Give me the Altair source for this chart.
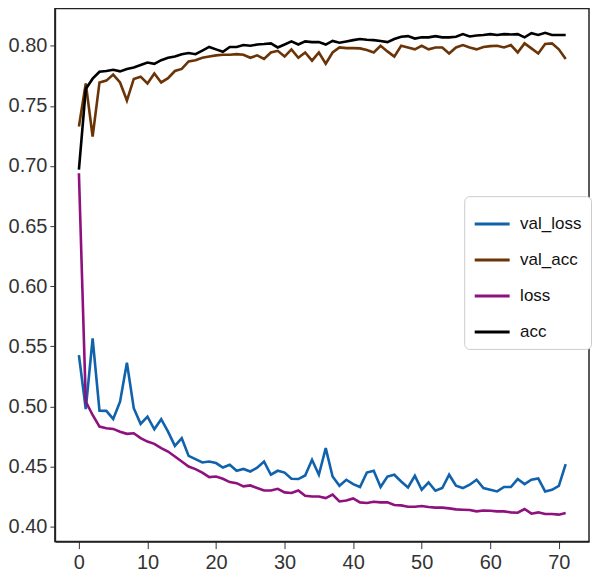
import altair as alt
import pandas as pd

epochs = list(range(72))

val_loss = [0.5427, 0.4977, 0.5566, 0.4965, 0.4963, 0.4896, 0.5040, 0.5364, 0.4985, 0.4855,
            0.4915, 0.4810, 0.4894, 0.4790, 0.4672, 0.4736, 0.4589, 0.4562, 0.4534, 0.4542,
            0.4529, 0.4492, 0.4515, 0.4465, 0.4480, 0.4459, 0.4490, 0.4542, 0.4432, 0.4465,
            0.4450, 0.4398, 0.4396, 0.4426, 0.4556, 0.4432, 0.4653, 0.4417, 0.4340, 0.4390,
            0.4354, 0.4330, 0.4450, 0.4465, 0.4330, 0.4417, 0.4432, 0.4376, 0.4326, 0.4423,
            0.4307, 0.4368, 0.4299, 0.4321, 0.4432, 0.4340, 0.4321, 0.4349, 0.4390, 0.4321,
            0.4307, 0.4293, 0.4330, 0.4330, 0.4396, 0.4354, 0.4390, 0.4401, 0.4293, 0.4307,
            0.4340, 0.4520]

val_acc = [0.7328, 0.7687, 0.7245, 0.7695, 0.7710, 0.7760, 0.7695, 0.7544, 0.7724, 0.7743,
           0.7687, 0.7770, 0.7695, 0.7730, 0.7790, 0.7807, 0.7870, 0.7880, 0.7900, 0.7910,
           0.7920, 0.7925, 0.7925, 0.7930, 0.7925, 0.7900, 0.7920, 0.7890, 0.7944, 0.7958,
           0.7910, 0.7970, 0.7900, 0.7944, 0.7876, 0.7944, 0.7850, 0.7944, 0.7986, 0.7980,
           0.7980, 0.7978, 0.7964, 0.7944, 0.8000, 0.7953, 0.7910, 0.8000, 0.7986, 0.7970,
           0.8000, 0.7970, 0.7986, 0.7986, 0.7936, 0.7986, 0.8006, 0.7986, 0.7970, 0.7990,
           0.7997, 0.8000, 0.7986, 0.8006, 0.7944, 0.8020, 0.7978, 0.7936, 0.8014, 0.8020,
           0.7970, 0.7890]

loss = [0.6940, 0.5040, 0.4929, 0.4832, 0.4818, 0.4813, 0.4790, 0.4772, 0.4777, 0.4736,
        0.4708, 0.4689, 0.4653, 0.4625, 0.4583, 0.4542, 0.4500, 0.4479, 0.4450, 0.4412,
        0.4417, 0.4398, 0.4371, 0.4362, 0.4335, 0.4343, 0.4321, 0.4301, 0.4301, 0.4315,
        0.4285, 0.4280, 0.4301, 0.4257, 0.4251, 0.4251, 0.4238, 0.4266, 0.4210, 0.4218,
        0.4235, 0.4202, 0.4197, 0.4207, 0.4202, 0.4202, 0.4180, 0.4177, 0.4166, 0.4166,
        0.4172, 0.4163, 0.4158, 0.4158, 0.4152, 0.4144, 0.4141, 0.4139, 0.4127, 0.4135,
        0.4133, 0.4127, 0.4127, 0.4119, 0.4116, 0.4147, 0.4108, 0.4119, 0.4105, 0.4105,
        0.4100, 0.4114]

acc = [0.6970, 0.7640, 0.7726, 0.7784, 0.7790, 0.7800, 0.7787, 0.7807, 0.7820, 0.7840,
       0.7860, 0.7850, 0.7880, 0.7900, 0.7910, 0.7930, 0.7940, 0.7930, 0.7960, 0.7990,
       0.7970, 0.7950, 0.7990, 0.7990, 0.8006, 0.8000, 0.8010, 0.8014, 0.8020, 0.7986,
       0.8010, 0.8036, 0.8010, 0.8036, 0.8030, 0.8030, 0.8010, 0.8040, 0.8025, 0.8036,
       0.8047, 0.8056, 0.8050, 0.8047, 0.8040, 0.8030, 0.8056, 0.8075, 0.8080, 0.8060,
       0.8070, 0.8070, 0.8080, 0.8070, 0.8070, 0.8075, 0.8097, 0.8077, 0.8085, 0.8090,
       0.8097, 0.8090, 0.8097, 0.8094, 0.8097, 0.8070, 0.8105, 0.8090, 0.8108, 0.8090,
       0.8090, 0.8090]

series_names = ["val_loss", "val_acc", "loss", "acc"]
series_colors = ["#0f62ab", "#6b3406", "#8e117e", "#000000"]
series_values = [val_loss, val_acc, loss, acc]

x_ticks = [0, 10, 20, 30, 40, 50, 60, 70]
y_ticks = [0.40, 0.45, 0.50, 0.55, 0.60, 0.65, 0.70, 0.75, 0.80]

rows = []
for name, vals in zip(series_names, series_values):
    for e, v in zip(epochs, vals):
        rows.append({"epoch": e, "value": v, "series": name})
df = pd.DataFrame(rows)

FONT = "Liberation Sans, Arial, sans-serif"

chart = alt.Chart(df).mark_line(strokeWidth=2.6).encode(
    x=alt.X("epoch:Q",
            scale=alt.Scale(domain=[-3.5, 74.4], nice=False, zero=False),
            axis=alt.Axis(values=x_ticks, title=None, grid=False, format="d",
                          labelFontSize=20, labelFont=FONT, labelColor="#333333",
                          tickSize=7, tickColor="#333333", domainColor="#222222",
                          domainWidth=1.5, labelPadding=4)),
    y=alt.Y("value:Q",
            scale=alt.Scale(domain=[0.3876, 0.831], nice=False, zero=False),
            axis=alt.Axis(values=y_ticks, title=None, grid=False, format=".2f",
                          labelFontSize=20, labelFont=FONT, labelColor="#333333",
                          tickSize=5, tickColor="#333333", domainColor="#222222",
                          domainWidth=1.5, labelPadding=3)),
    color=alt.Color("series:N",
                    scale=alt.Scale(domain=series_names, range=series_colors),
                    sort=series_names,
                    legend=alt.Legend(title=None, orient="none", legendX=410, legendY=188,
                                      symbolType="stroke", symbolSize=1225,
                                      symbolStrokeWidth=3, labelFontSize=17,
                                      labelFont=FONT, labelColor="#111111",
                                      fillColor="white", strokeColor="#cccccc",
                                      cornerRadius=5, padding=9, rowPadding=9,
                                      labelOffset=9)),
    detail="series:N",
).properties(
    width=535, height=534,
    padding={"left": 0, "top": 0, "right": 0, "bottom": 0},
).configure_view(
    stroke="#222222", strokeWidth=1.5
)

chart.save("out.html", embed_options={"renderer": "svg", "actions": False})
